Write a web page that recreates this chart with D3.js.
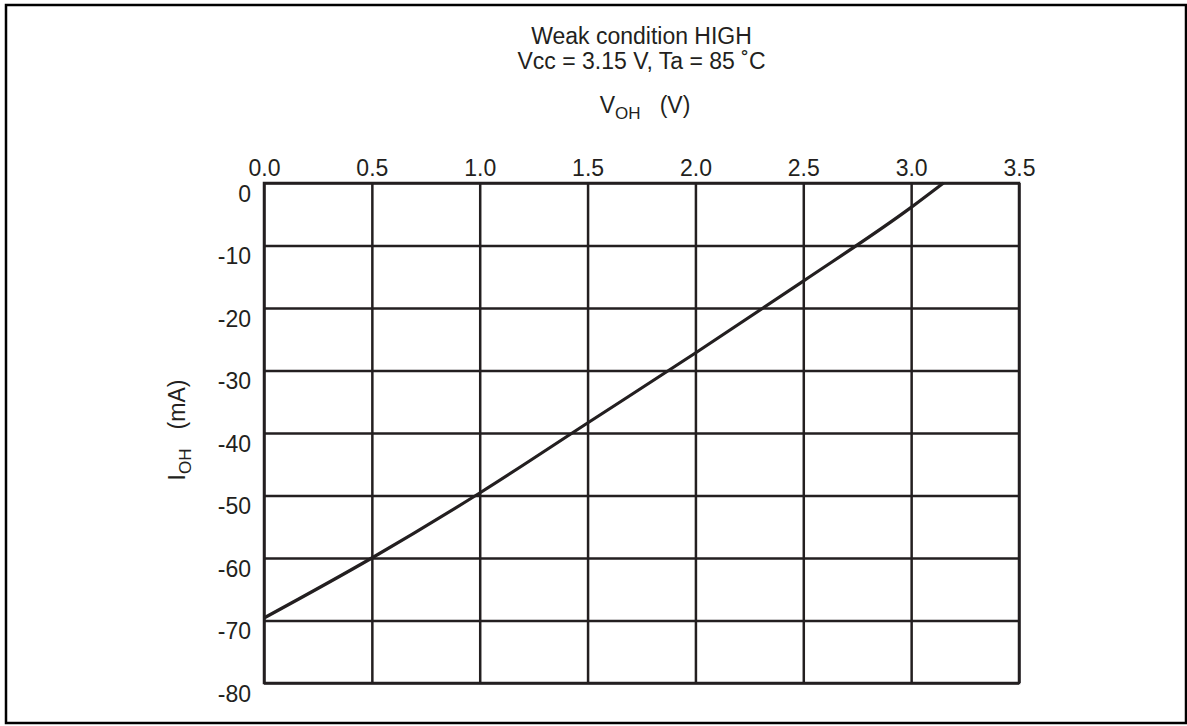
<!DOCTYPE html>
<html>
<head>
<meta charset="utf-8">
<script src="https://cdn.jsdelivr.net/npm/d3@7"></script>
<style>
  body { margin: 0; background: #fff; }
  text { font-family: "Liberation Sans", Arial, sans-serif; fill: #231f20; }
</style>
</head>
<body>
<div id="chart"></div>
<script>
// values
var vohTicks = [0, 0.5, 1.0, 1.5, 2.0, 2.5, 3.0, 3.5];
var iohTicks = [0, -10, -20, -30, -40, -50, -60, -70, -80];
var voh = [0, 0.5, 1.0, 1.5, 2.0, 2.5, 3.0, 3.15];
var ioh = [-69.6, -60.0, -49.6, -38.4, -27.2, -15.7, -3.9, 0];

var svgW = 1187, svgH = 726;
var pL = 264, pR = 1019, pT = 183, pB = 683;
var ink = "#231f20";
var fs = "23px", subFs = "17px";

var svg = d3.select("#chart").append("svg").attr("width", svgW).attr("height", svgH);

// outer frame
svg.append("rect")
  .attr("x", 6).attr("y", 5).attr("width", 1180).attr("height", 718)
  .attr("fill", "none").attr("stroke", "#000").attr("stroke-width", 2.5);

var x = d3.scaleLinear().domain([0, 3.5]).range([pL, pR]);
var y = d3.scaleLinear().domain([0, -80]).range([pT, pB]);

// x axis on top, ticks stretched into grid
var gx = svg.append("g").attr("transform", "translate(0," + pT + ")")
  .call(d3.axisTop(x).tickValues(vohTicks).tickFormat(d3.format(".1f"))
    .tickSize(-(pB - pT)).tickPadding(7));
gx.select(".domain").remove();
gx.selectAll("line").attr("stroke", ink).attr("stroke-width", 2.5);
gx.selectAll("text").style("font-size", fs).attr("fill", ink);

var gy = svg.append("g").attr("transform", "translate(" + pL + ",0)")
  .call(d3.axisLeft(y).tickValues(iohTicks).tickFormat(d => d3.format("d")(d).replace("\u2212", "-"))
    .tickSize(-(pR - pL)).tickPadding(13));
gy.select(".domain").remove();
gy.selectAll("line").attr("stroke", ink).attr("stroke-width", 2.5);
gy.selectAll("text").style("font-size", fs).attr("fill", ink).attr("dy", "0.8em");

// plot frame
svg.append("rect")
  .attr("x", pL).attr("y", pT).attr("width", pR - pL).attr("height", pB - pT)
  .attr("fill", "none").attr("stroke", ink).attr("stroke-width", 2.5);

// the curve
var pts = voh.map(function(v, i) { return [v, ioh[i]]; });
var line = d3.line().x(d => x(d[0])).y(d => y(d[1])).curve(d3.curveMonotoneX);
svg.append("path").datum(pts)
  .attr("d", line)
  .attr("fill", "none").attr("stroke", ink).attr("stroke-width", 3.2);

// titles
var cx = (pL + pR) / 2;
svg.append("text").attr("x", cx).attr("y", 44).attr("text-anchor", "middle")
  .style("font-size", fs).text("Weak condition HIGH");
svg.append("text").attr("x", cx).attr("y", 69).attr("text-anchor", "middle")
  .style("font-size", fs).text("Vcc = 3.15 V, Ta = 85 \u02daC");

var xl = svg.append("text").attr("x", 645).attr("y", 113).attr("text-anchor", "middle")
  .style("font-size", fs);
xl.append("tspan").text("V");
xl.append("tspan").attr("dy", 6).style("font-size", subFs).text("OH");
xl.append("tspan").attr("dy", -6).text("\u00a0\u00a0\u00a0(V)");

var yl = svg.append("text").attr("transform", "translate(185,430) rotate(-90)")
  .attr("text-anchor", "middle").style("font-size", fs);
yl.append("tspan").text("I");
yl.append("tspan").attr("dy", 6).style("font-size", subFs).text("OH");
yl.append("tspan").attr("dy", -6).text("\u00a0\u00a0\u00a0(mA)");
</script>
</body>
</html>
